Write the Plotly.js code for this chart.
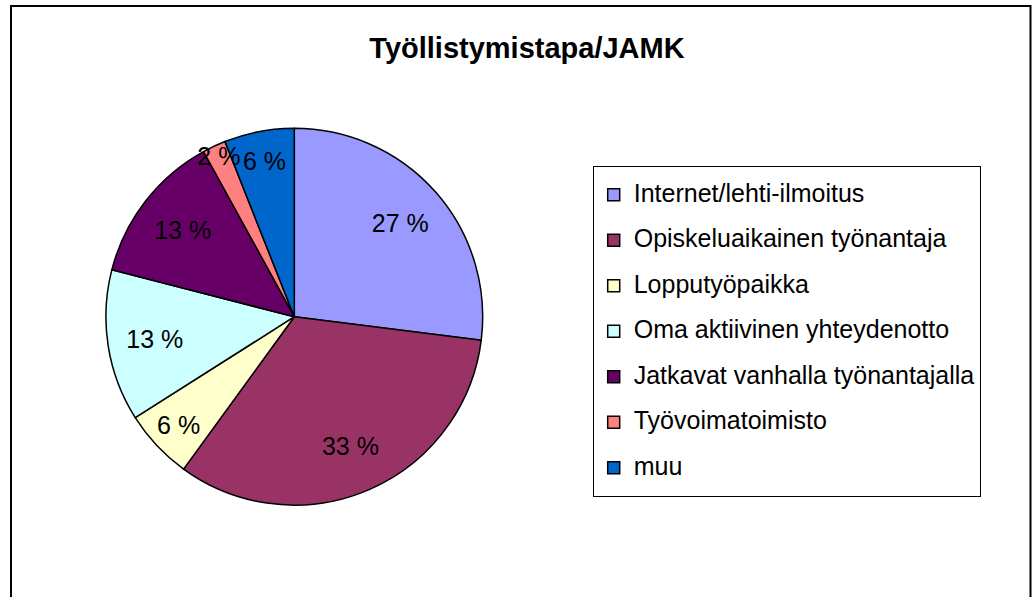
<!DOCTYPE html>
<html>
<head>
<meta charset="utf-8">
<script src="https://cdn.plot.ly/plotly-3.0.1.min.js"></script>
<style>
  html, body { margin: 0; padding: 0; background: #ffffff; }
  #chart { width: 1032px; height: 597px; }
</style>
</head>
<body>
<div id="chart"></div>
<script>
// ---- Data ----
const categories = [
  "Internet/lehti-ilmoitus",
  "Opiskeluaikainen työnantaja",
  "Lopputyöpaikka",
  "Oma aktiivinen yhteydenotto",
  "Jatkavat vanhalla työnantajalla",
  "Työvoimatoimisto",
  "muu"
];
const shares = [27, 33, 6, 13, 13, 2, 6];
const sliceColors = ["#9999FF", "#993366", "#FFFFCC", "#CCFFFF", "#660066", "#FF8080", "#0066CC"];
const chartTitle = "Työllistymistapa/JAMK";

// Legend labels: rendered at 25px inside a raised span so text sits centred on the swatch
const legendLabels = categories.map(c =>
  '<span style="font-size:13.8px"><sup><span style="font-size:25px">' + c + '</span></sup></span>');

const W = 1032, H = 597;
const cx = 294.3, cy = 316.7, r = 188.4;
const pieDomain = {
  x: [(cx - r) / W, (cx + r) / W],
  y: [(H - cy - r) / H, (H - cy + r) / H]
};
const labelFont = { family: 'Liberation Sans, Arial, sans-serif', size: 25, color: '#000000' };

// The pie itself (slices, outlines, legend)
const pieTrace = {
  type: 'pie',
  labels: legendLabels,
  values: shares,
  sort: false,
  direction: 'clockwise',
  rotation: 0,
  marker: { colors: sliceColors, line: { color: '#000000', width: 1.5 } },
  textinfo: 'none',
  hoverinfo: 'skip',
  domain: pieDomain
};

// Same data again, transparent, only to place the percentage labels further out
const labelTrace = {
  type: 'pie',
  labels: legendLabels,
  values: shares,
  sort: false,
  direction: 'clockwise',
  rotation: 0,
  hole: 0.5,
  showlegend: false,
  marker: { colors: shares.map(() => 'rgba(0,0,0,0)'), line: { width: 0 } },
  texttemplate: '%{value} %',
  textposition: 'inside',
  insidetextorientation: 'horizontal',
  textfont: labelFont,
  hoverinfo: 'skip',
  domain: pieDomain
};

const layout = {
  width: W,
  height: H,
  margin: { l: 0, r: 0, t: 0, b: 0 },
  paper_bgcolor: '#ffffff',
  font: { family: 'Liberation Sans, Arial, sans-serif', color: '#000000' },
  title: {
    text: '<b>' + chartTitle + '</b>',
    font: { family: 'Liberation Sans, Arial, sans-serif', size: 29, color: '#000000' },
    x: 527 / W,
    xanchor: 'center',
    xref: 'paper',
    yref: 'container',
    y: 1 - 48 / H,
    yanchor: 'middle'
  },
  showlegend: true,
  legend: {
    x: 592.7 / W,
    xanchor: 'left',
    y: 1 - 166 / H,
    yanchor: 'top',
    bgcolor: '#ffffff',
    bordercolor: '#000000',
    borderwidth: 1,
    font: { family: 'Liberation Sans, Arial, sans-serif', size: 32.7, color: '#000000' },
    traceorder: 'normal'
  },
  uniformtext: { mode: 'show', minsize: 25 },
  shapes: [{
    type: 'rect',
    xref: 'paper', yref: 'paper',
    x0: 11 / W, x1: 1030.5 / W,
    y0: -0.05, y1: 1 - 6 / H,
    line: { color: '#000000', width: 2 },
    fillcolor: 'rgba(0,0,0,0)',
    layer: 'below'
  }]
};

Plotly.newPlot('chart', [pieTrace, labelTrace], layout, { displayModeBar: false, staticPlot: true });
</script>
</body>
</html>
